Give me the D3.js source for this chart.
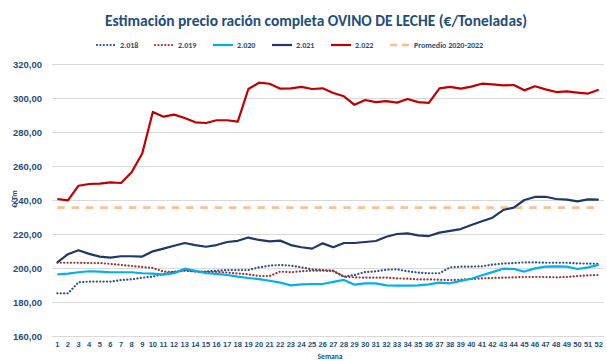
<!DOCTYPE html>
<html lang="es">
<head>
<meta charset="utf-8">
<script src="https://cdn.jsdelivr.net/npm/d3@7"></script>
<style>
  html, body { margin: 0; padding: 0; background: #fff; }
  svg { display: block; font-family: Carlito, Lato, "Noto Sans", sans-serif; }
</style>
</head>
<body>
<svg id="chart" width="607" height="361"></svg>
<script>
// Weekly ration price, dairy sheep (€/t), weeks 1–52
const weeks = d3.range(1, 53);
const s2018 = [185.1,185.1,191.6,192,192,192,192.9,193.3,194.3,194.9,196.5,197.6,198.4,197.9,197.9,198.4,198.8,198.8,198.8,200.4,201.4,201.8,201.4,200.4,199.2,198.8,198.4,194.9,195.9,197.6,198.1,199,199.2,198.1,197.3,196.9,196.9,200.4,200.8,200.8,201,202,202.6,202.9,203.3,203.3,203.1,203.1,203.1,202.7,202.6,202.4];
const s2019 = [203.1,203.1,203.1,202.9,202.9,202.4,201.8,201.2,200.6,200,197.9,197.7,198.8,197.9,197.7,197.7,197.3,196.8,196.3,195.3,195.3,197.9,197.5,198.1,198.4,198.4,198.2,194.9,194.5,194.3,194.3,194.3,193.9,193.7,193.3,193.3,193.1,192.9,193.1,193.5,193.9,194.1,194.3,194.5,194.7,194.7,194.7,194.5,194.7,195.3,195.7,195.9];
const s2020 = [196.3,196.7,197.5,198.1,197.9,197.5,197.5,197.5,196.9,196.7,196.1,196.9,199.6,198.4,196.9,196.5,195.9,194.9,194.1,193.5,192.5,191.4,189.8,190.4,190.6,190.6,191.8,193,190.2,191,191,189.8,189.6,189.6,189.8,190.4,191.4,191,192.4,193.7,195.7,197.6,199.6,199.4,197.9,199.8,200.8,201,200.8,199.4,200.4,201.8];
const s2021 = [203.3,208.1,210.4,208.3,206.7,206.1,206.9,206.9,206.7,209.8,211.4,213.1,214.7,213.5,212.5,213.5,215.3,216,217.9,216.5,215.7,216.1,213.5,212.2,211.4,214.5,212.2,214.7,214.7,215.3,215.9,218.4,220,220.4,219.2,218.8,220.8,221.8,222.9,225.3,227.5,229.6,234.1,235.5,240,241.8,241.9,240.6,240.2,239.2,240.4,240.2];
const s2022 = [240.6,239.8,248.4,249.4,249.6,250.4,250,256.3,267.4,291.8,289,290.2,288.2,285.7,285.3,286.9,286.9,286.1,305.3,309,308.4,305.5,305.7,306.5,305.3,305.7,302.9,301,296,298.8,297.6,298.2,297.3,299.4,297.6,297.1,305.7,306.5,305.5,306.7,308.4,308,307.4,307.6,304.5,306.9,305.1,303.5,303.9,303.2,302.6,304.9];
const promedio = 235.5; // average 2020-2022
const yTicks = [160,180,200,220,240,260,280,300,320];

const seriesNames = ["2.018","2.019","2.020","2.021","2.022","Promedio 2020-2022"];

const svg = d3.select("#chart");
const textColor = "#1F4E79";
const plot = { left: 52, right: 604, top: 64, bottom: 336 };

const x = d3.scaleBand().domain(weeks).range([plot.left, plot.right]);
const y = d3.scaleLinear().domain([160, 320]).range([plot.bottom, plot.top]);
const cx = w => x(w) + x.bandwidth() / 2;

const es = d3.formatLocale({ decimal: ",", thousands: ".", grouping: [3], currency: ["", "€"] });
const fmt = es.format(".2f");

// Horizontal gridlines + y labels
const yAxis = svg.append("g")
  .attr("transform", `translate(${plot.left},0)`)
  .call(d3.axisLeft(y).tickValues(yTicks).tickFormat(fmt)
    .tickSize(-(plot.right - plot.left)).tickPadding(10));
yAxis.select(".domain").remove();
yAxis.selectAll(".tick line").attr("stroke", "#D9D9D9").attr("stroke-width", 1);
yAxis.selectAll(".tick text")
  .attr("fill", textColor).attr("font-size", 9.5).attr("font-weight", 600);

// Week labels
const xAxis = svg.append("g")
  .attr("transform", `translate(0,${plot.bottom})`)
  .call(d3.axisBottom(x).tickSize(0).tickPadding(6));
xAxis.select(".domain").remove();
xAxis.selectAll(".tick text")
  .attr("fill", textColor).attr("font-size", 7.5).attr("font-weight", 700);

// Axis titles
svg.append("text")
  .attr("transform", "translate(17,199) rotate(-90)")
  .attr("text-anchor", "middle")
  .attr("fill", textColor).attr("font-size", 8).attr("font-weight", 700)
  .text("€/Tm");
svg.append("text")
  .attr("x", 330).attr("y", 359)
  .attr("text-anchor", "middle")
  .attr("fill", textColor).attr("font-size", 7.5).attr("font-weight", 700)
  .text("Semana");

// Title
svg.append("text")
  .attr("x", 316).attr("y", 25.5)
  .attr("text-anchor", "middle")
  .attr("fill", textColor).attr("font-size", 15).attr("font-weight", 700)
  .attr("textLength", 422).attr("lengthAdjust", "spacingAndGlyphs")
  .text("Estimación precio ración completa OVINO DE LECHE (€/Toneladas)");

// Series styles
const styles = [
  { color: "#2F4F86", width: 2.2, dash: "0.1,3.3", cap: "round" },
  { color: "#953735", width: 2.2, dash: "0.1,3.3", cap: "round" },
  { color: "#00B0F0", width: 2.2, dash: null, cap: "butt" },
  { color: "#1F3864", width: 2.2, dash: null, cap: "butt" },
  { color: "#C00000", width: 2.2, dash: null, cap: "butt" },
  { color: "#FAC090", width: 2.8, dash: "7.5,6.8", cap: "butt" }
];
const values = [s2018, s2019, s2020, s2021, s2022, weeks.map(() => promedio)];

const line = d3.line().x((d, i) => cx(weeks[i])).y(d => y(d));

// Draw order: average, 2018, 2019, 2020, 2021, 2022
const order = [5, 0, 1, 2, 3, 4];
order.forEach(k => {
  const st = styles[k];
  svg.append("path")
    .datum(values[k])
    .attr("fill", "none")
    .attr("stroke", st.color)
    .attr("stroke-width", st.width)
    .attr("stroke-linejoin", "round")
    .attr("stroke-linecap", st.cap)
    .attr("stroke-dasharray", st.dash)
    .attr("d", line);
});

// Legend
const legendX = [96, 154, 213, 272, 331, 390];
const legendY = 45;
const lg = svg.append("g");
seriesNames.forEach((name, k) => {
  const st = styles[k];
  const x0 = legendX[k];
  lg.append("line")
    .attr("x1", x0 + (st.cap === "round" ? 1 : 0)).attr("x2", x0 + 20)
    .attr("y1", legendY).attr("y2", legendY)
    .attr("stroke", st.color)
    .attr("stroke-width", k === 5 ? 2.6 : st.width)
    .attr("stroke-linecap", st.cap)
    .attr("stroke-dasharray", k === 5 ? "7,5" : st.dash);
  lg.append("text")
    .attr("x", x0 + 24).attr("y", legendY)
    .attr("dy", "0.35em")
    .attr("fill", textColor).attr("font-size", 8).attr("font-weight", 700)
    .text(name);
});
</script>
</body>
</html>
